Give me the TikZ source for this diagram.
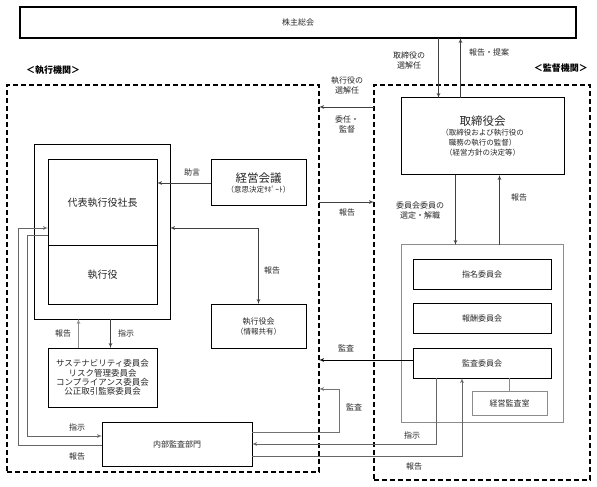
\documentclass[tikz,border=0pt]{standalone}
\usepackage{fontspec}
\setmainfont{Noto Sans CJK JP}
\usepackage{tikz}
\usetikzlibrary{arrows, positioning, calc}

\begin{document}
\begin{tikzpicture}[x=1bp, y=-1bp,
        font=\fontsize{8bp}{10bp}\selectfont,
        block/.style={rectangle, draw, line width=1bp, text=black!85, align=center, inner sep=1bp, outer sep=0pt},
        group/.style={rectangle, draw, line width=1.3bp, dash pattern=on 5bp off 3bp, outer sep=0pt},
        remark/.style={text=black!85, align=center, inner sep=1bp},
        line/.style={draw, line width=0.7bp, black!75, -latex'},
        faint/.style={draw, line width=0.7bp, black!45}]

        \useasboundingbox (0,0) rectangle (597,487);

        % Shareholders and the two organs
        \node [block, line width=2bp, minimum width=556bp, minimum height=31bp] (meeting) at (298,22.5) {株主総会};
        \node [group, minimum width=312bp, minimum height=387bp] (exec) at (163,278.5) {};
        \node [group, minimum width=216bp, minimum height=395bp] (supervise) at (482,282.5) {};
        \node [remark, text=black, anchor=west, font=\fontsize{9bp}{11bp}\selectfont\bfseries] (exectitle) at (25,70) {＜執行機関＞};
        \node [remark, text=black, anchor=east, font=\fontsize{9bp}{11bp}\selectfont\bfseries] (supertitle) at (589,68) {＜監督機関＞};

        % Board side
        \node [block, minimum width=163bp, minimum height=77bp] (board) at (482.5,136.5)
            {\fontsize{11.5bp}{13bp}\selectfont 取締役会\\ \fontsize{7.5bp}{8.3bp}\selectfont （取締役および執行役の\\ \fontsize{7.5bp}{8.3bp}\selectfont 職務の執行の監督）\\ \fontsize{7.5bp}{8.3bp}\selectfont （経営方針の決定等）};
        \node [block, draw=black!45, minimum width=162bp, minimum height=177bp] (panel) at (482,333.5) {};
        \node [block, minimum width=138bp, minimum height=30bp] (nominate) at (482,274) {指名委員会};
        \node [block, minimum width=138bp, minimum height=30bp, below=14.5bp of nominate] (reward) {報酬委員会};
        \node [block, minimum width=138bp, minimum height=30bp, below=14.5bp of reward] (auditcom) {監査委員会};
        \node [block, draw=black!45, minimum width=75bp, minimum height=24bp] (office) at (509.5,403) {経営監査室};

        % Executive side
        \node [block, minimum width=135bp, minimum height=174bp] (frame) at (102.5,232) {};
        \node [block, font=\fontsize{10bp}{12bp}\selectfont, minimum width=109bp, minimum height=85bp] (ceo) at (102.5,202.5) {代表執行役社長};
        \node [block, font=\fontsize{10bp}{12bp}\selectfont, minimum width=109bp, minimum height=59bp, below=0bp of ceo] (officers) {執行役};
        \node [block, minimum width=95bp, minimum height=46bp] (council) at (258.5,183)
            {\fontsize{11.5bp}{13bp}\selectfont 経営会議\\ \fontsize{7.5bp}{9bp}\selectfont （意思決定ｻﾎﾟｰﾄ）};
        \node [block, minimum width=95bp, minimum height=44bp] (execboard) at (258.5,326)
            {\fontsize{8bp}{10bp}\selectfont 執行役会\\ \fontsize{7.5bp}{9bp}\selectfont （情報共有）};
        \node [block, font=\fontsize{8.5bp}{9.3bp}\selectfont, minimum width=109bp, minimum height=59bp] (committees) at (102.5,377.5)
            {サステナビリティ委員会\\リスク管理委員会\\コンプライアンス委員会\\公正取引監察委員会};
        \node [block, minimum width=150bp, minimum height=44bp] (audit) at (177,444) {内部監査部門};

        % Labels
        \node [remark] (elect) at (409,60) {取締役の\\選解任};
        \node [remark] (proposal) at (489,52) {報告・提案};
        \node [remark] (appoint) at (347,85) {執行役の\\選解任};
        \node [remark] (delegate) at (347,124) {委任・\\監督};
        \node [remark] (reportmid) at (347,212) {報告};
        \node [remark] (select) at (420,210) {委員会委員の\\選定・解職};
        \node [remark] (reportboard) at (519,197) {報告};
        \node [remark] (advice) at (192,172) {助言};
        \node [remark] (reportexec) at (272,270) {報告};
        \node [remark] (reportleft) at (63,333) {報告};
        \node [remark] (orderleft) at (126,333) {指示};
        \node [remark] (auditone) at (346,348) {監査};
        \node [remark] (audittwo) at (354,407) {監査};
        \node [remark] (orderdept) at (77,427) {指示};
        \node [remark] (reportdept) at (77,456) {報告};
        \node [remark] (ordercom) at (412,435) {指示};
        \node [remark] (reportcom) at (414,466) {報告};

        % Connections
        \path [line] ([xshift=-44bp]board.north |- meeting.south) -- ([xshift=-44bp]board.north);
        \path [line] ([xshift=-22bp]board.north) -- ([xshift=-22bp]board.north |- meeting.south);
        \path [line] ([yshift=-22bp]supervise.north west) -- ([yshift=-22bp]supervise.north west -| exec.east);
        \path [line] ([yshift=-117bp]exec.north east) -- ([yshift=-117bp]exec.north east -| supervise.west);
        \path [line] (council.west) -- (council.west -| ceo.east);
        \path [line, latex'-latex'] ([yshift=4bp]frame.east) -| (execboard.north);
        \path [line, black!45] ([xshift=-24bp]committees.north) -- ([xshift=-24bp]committees.north |- frame.south);
        \path [line] ([xshift=8bp]committees.north |- frame.south) -- ([xshift=8bp]committees.north);
        \path [line] ([xshift=-27bp]board.south) -- ([xshift=-27bp]board.south |- panel.north);
        \path [line] ([xshift=17bp]board.south |- panel.north) -- ([xshift=17bp]board.south);
        \path [faint] (office.north) -- (office.north |- auditcom.south);
        \path [line, black] ([yshift=3bp]auditcom.west) -- ([yshift=3bp]auditcom.west -| exec.east);
        \path [line, black!55] ([yshift=12bp]audit.east) -- ++(87,0) |- ([yshift=83bp]exec.south east);
        \path [line, black!60] ([xshift=-46bp]auditcom.south) |- (audit.east);
        \path [line, black!60] ([yshift=-12bp]audit.east) -| ([xshift=-20bp]auditcom.south);
        \path [line, black!60] ([yshift=-32.5bp]ceo.west) -- ++(-21,0) |- ([yshift=8bp]audit.west);
        \path [line, black!60] ([yshift=-1bp]audit.west) -- ++(-84,0) |- ([yshift=-25.5bp]ceo.west);

    \end{tikzpicture}
\end{document}
